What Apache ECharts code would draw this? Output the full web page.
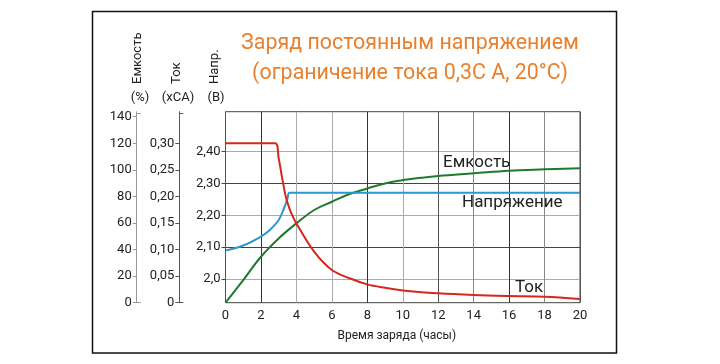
<!DOCTYPE html>
<html><head><meta charset="utf-8">
<script src="https://cdn.jsdelivr.net/npm/echarts@6/dist/echarts.min.js"></script>
<style>html,body{margin:0;padding:0;background:#fff}#c{width:720px;height:364px}</style>
</head><body><div id="c"></div>
<script>
// ---- data ----
const hoursV = [0, 1, 2, 2.5, 3, 3.3, 3.5, 3.6, 4, 20];
const voltage = [2.089, 2.105, 2.133, 2.154, 2.185, 2.222, 2.253, 2.271, 2.271, 2.271];

const hoursI = [0, 2.8, 3.0, 3.2, 3.4, 3.6, 3.8, 4, 5, 6, 7, 8, 9, 10, 12, 14, 16, 18, 20];
const current = [0.30, 0.30, 0.272, 0.234, 0.200, 0.178, 0.162, 0.149, 0.096, 0.0615, 0.046, 0.0345, 0.028, 0.023, 0.0177, 0.0145, 0.0126, 0.0113, 0.007];

const hoursC = [0, 1, 2, 3, 4, 5, 6, 7, 8, 9, 10, 11, 12, 14, 16, 18, 20];
const capacity = [0, 17, 34.6, 48.4, 59.7, 69.8, 76, 81.8, 86, 89.8, 92.3, 94, 95.4, 97.4, 99.4, 100.4, 101.2];

const voltTicks = [2.0, 2.1, 2.2, 2.3, 2.4];
const voltLabels = ['2,0', '2,10', '2,20', '2,30', '2,40'];
const capTicks = [0, 20, 40, 60, 80, 100, 120, 140];
const curTicks = [0, 0.05, 0.10, 0.15, 0.20, 0.25, 0.30];
const curLabels = ['0', '0,05', '0,10', '0,15', '0,20', '0,25', '0,30'];

const titleText = 'Заряд постоянным напряжением\n(ограничение тока 0,3С А, 20°С)';
const xName = 'Время заряда (часы)';

// ---- chart ----
const FONT = 'Roboto';
const pairs = (xs, ys) => xs.map((x, i) => [x, ys[i]]);
const chart = echarts.init(document.getElementById('c'), null, {renderer: 'canvas'});

const VMIN = 1.9256, VMAX = 2.525;
const CAPMAX = 143.8, CURMAX = 0.3595;

chart.setOption({
  animation: false,
  backgroundColor: '#fff',
  textStyle: {fontFamily: FONT},
  title: {
    text: titleText, left: 405, top: 24, textAlign: 'center',
    textStyle: {color: '#E8812F', fontSize: 21.4, fontWeight: 'normal', lineHeight: 30, fontFamily: FONT}
  },
  grid: {left: 225.5, right: 140, top: 111.7, bottom: 61.3, show: true, borderColor: '#444', borderWidth: 1},
  xAxis: {
    type: 'value', min: 0, max: 20, interval: 2,
    name: xName, nameLocation: 'middle', nameGap: 27,
    nameTextStyle: {color: '#222', fontSize: 12, fontFamily: FONT, padding: [0, 12, 0, 0]},
    axisLine: {show: false}, axisTick: {show: false},
    axisLabel: {color: '#222', fontSize: 13, margin: 7, fontFamily: FONT},
    splitLine: {show: true, lineStyle: {width: 1, color: ['#555', '#333', '#aaa', '#aaa', '#333', '#aaa', '#555', '#888', '#333', '#888', '#555']}}
  },
  yAxis: [
    { // voltage
      type: 'value', position: 'left', offset: 0, min: VMIN, max: VMAX,
      axisLine: {show: false},
      axisTick: {show: true, customValues: voltTicks, length: 4, lineStyle: {color: '#444'}},
      axisLabel: {customValues: voltTicks, color: '#222', fontSize: 13, margin: 5, fontFamily: FONT,
        formatter: v => voltLabels[voltTicks.findIndex(t => Math.abs(t - v) < 1e-6)] ?? ''},
      splitLine: {show: true, lineStyle: {width: 1, color: ['#aaa', '#444', '#aaa', '#444', '#aaa']}}
    },
    { // capacity
      type: 'value', position: 'left', offset: 88.8, min: 0, max: CAPMAX,
      axisLine: {show: true, onZero: false, lineStyle: {color: '#999', width: 1}},
      axisTick: {show: true, customValues: capTicks, length: 4, lineStyle: {color: '#999'}},
      axisLabel: {customValues: capTicks, color: '#222', fontSize: 13, margin: 5, fontFamily: FONT},
      splitLine: {show: false}
    },
    { // capacity caps
      type: 'value', position: 'left', offset: 88.8, min: 0, max: CAPMAX,
      axisLine: {show: false},
      axisTick: {show: true, inside: true, customValues: [0, 142.5], length: 4, lineStyle: {color: '#999'}},
      axisLabel: {show: false}, splitLine: {show: false}
    },
    { // current
      type: 'value', position: 'left', offset: 46.2, min: 0, max: CURMAX,
      axisLine: {show: true, onZero: false, lineStyle: {color: '#555', width: 1}},
      axisTick: {show: true, customValues: curTicks, length: 4, lineStyle: {color: '#555'}},
      axisLabel: {customValues: curTicks, color: '#222', fontSize: 13, margin: 5, fontFamily: FONT,
        formatter: v => curLabels[curTicks.findIndex(t => Math.abs(t - v) < 1e-6)] ?? ''},
      splitLine: {show: false}
    },
    { // current caps
      type: 'value', position: 'left', offset: 46.2, min: 0, max: CURMAX,
      axisLine: {show: false},
      axisTick: {show: true, inside: true, customValues: [0, 0.3565], length: 4, lineStyle: {color: '#555'}},
      axisLabel: {show: false}, splitLine: {show: false}
    }
  ],
  series: [
    {type: 'line', name: 'Напряжение', yAxisIndex: 0, data: pairs(hoursV, voltage), showSymbol: false,
      smooth: 0.35, lineStyle: {color: '#2A97CE', width: 2}, z: 3},
    {type: 'line', name: 'Емкость', yAxisIndex: 1, data: pairs(hoursC, capacity), showSymbol: false,
      smooth: 0.4, lineStyle: {color: '#1F7A2E', width: 2}, z: 2},
    {type: 'line', name: 'Ток', yAxisIndex: 3, data: pairs(hoursI, current), showSymbol: false,
      smooth: 0.35, lineStyle: {color: '#D4281E', width: 2}, z: 4}
  ],
  graphic: [
    {type: 'rect', shape: {x: 92.5, y: 11.5, width: 524, height: 341.5}, style: {fill: 'none', stroke: '#111', lineWidth: 1.5}, silent: true},
    {type: 'text', x: 138, y: 84, rotation: Math.PI / 2, style: {text: 'Емкость', fontSize: 13, fontFamily: FONT, fill: '#222', textAlign: 'left', textVerticalAlign: 'middle'}},
    {type: 'text', x: 177, y: 84, rotation: Math.PI / 2, style: {text: 'Ток', fontSize: 13, fontFamily: FONT, fill: '#222', textAlign: 'left', textVerticalAlign: 'middle'}},
    {type: 'text', x: 215, y: 84, rotation: Math.PI / 2, style: {text: 'Напр.', fontSize: 13, fontFamily: FONT, fill: '#222', textAlign: 'left', textVerticalAlign: 'middle'}},
    {type: 'text', x: 140, y: 98, style: {text: '(%)', fontSize: 13, fontFamily: FONT, fill: '#222', textAlign: 'center', textVerticalAlign: 'middle'}},
    {type: 'text', x: 178, y: 98, style: {text: '(xCA)', fontSize: 13, fontFamily: FONT, fill: '#222', textAlign: 'center', textVerticalAlign: 'middle'}},
    {type: 'text', x: 216, y: 98, style: {text: '(B)', fontSize: 13, fontFamily: FONT, fill: '#222', textAlign: 'center', textVerticalAlign: 'middle'}},
    {type: 'text', x: 443, y: 163, style: {text: 'Емкость', fontSize: 17, fontFamily: FONT, fill: '#222', textAlign: 'left', textVerticalAlign: 'middle'}},
    {type: 'text', x: 462, y: 203, style: {text: 'Напряжение', fontSize: 17, fontFamily: FONT, fill: '#222', textAlign: 'left', textVerticalAlign: 'middle'}},
    {type: 'text', x: 515, y: 288, style: {text: 'Ток', fontSize: 17, fontFamily: FONT, fill: '#222', textAlign: 'left', textVerticalAlign: 'middle'}}
  ]
});
</script></body></html>
